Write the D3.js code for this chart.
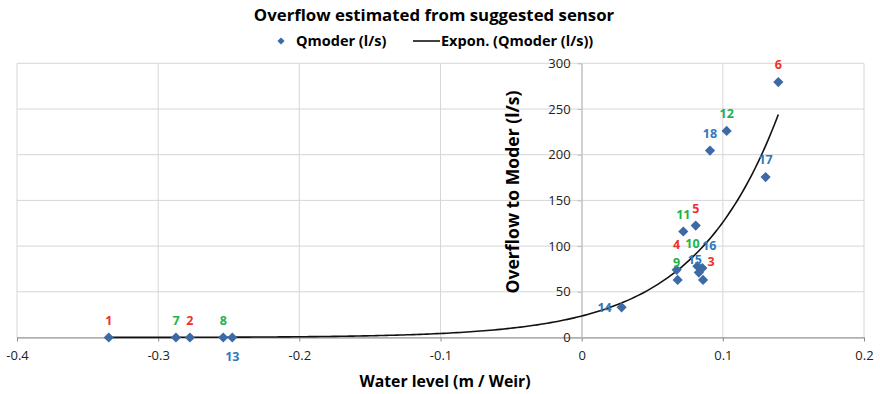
<!DOCTYPE html>
<html>
<head>
<meta charset="utf-8">
<script src="https://d3js.org/d3.v7.min.js"></script>
<style>
  body { margin: 0; background: white; }
  text { font-family: "Open Sans", sans-serif; }
  .grid line { stroke: #d6d6d6; stroke-width: 1; }
  .axis text { font-size: 13px; fill: #222; }
</style>
</head>
<body>
<div id="chart"></div>
<script>

var pointIds   = [1, 2, 3, 4, 5, 6, 7, 8, 9, 10, 11, 12, 13, 14, 15, 16, 17, 18];
var waterLevel = [-0.335, -0.2775, 0.086, 0.0673, 0.0808, 0.1393, -0.2874, -0.2539, 0.068, 0.082, 0.072, 0.1027, -0.2475, 0.0283, 0.083, 0.0855, 0.1303, 0.0909];
var overflow   = [0, 0, 63, 74, 122.5, 279.5, 0, 0, 63, 78, 116, 226, 0, 33, 71, 76, 175.5, 204.5];

var xTicks = [-0.4, -0.3, -0.2, -0.1, 0, 0.1, 0.2];
var yTicks = [0, 50, 100, 150, 200, 250, 300];

// Excel exponential trendline  y = a * e^(b x), drawn over the data range
var trendA = 23.5;
var trendB = 16.8;

var width = 880, height = 394;

var svg = d3.select('#chart').append('svg')
  .attr('width', width)
  .attr('height', height)
  .style('background', 'white');

var x = d3.scaleLinear().domain([-0.4, 0.2]).range([17, 864]);
var y = d3.scaleLinear().domain([0, 300]).range([337.5, 63.3]);

// gridlines
var grid = svg.append('g').attr('class', 'grid');
grid.selectAll('.vg').data(xTicks).enter().append('line')
  .attr('x1', function (d) { return x(d); })
  .attr('x2', function (d) { return x(d); })
  .attr('y1', y(300)).attr('y2', y(0));
grid.selectAll('.hg').data(yTicks).enter().append('line')
  .attr('x1', x(-0.4)).attr('x2', x(0.2))
  .attr('y1', function (d) { return y(d); })
  .attr('y2', function (d) { return y(d); });

// axes crossing at zero
var xAxis = svg.append('g').attr('class', 'axis')
  .attr('transform', 'translate(0,' + y(0) + ')')
  .call(d3.axisBottom(x).tickValues(xTicks).tickFormat(String).tickSize(4).tickSizeOuter(0).tickPadding(9));
xAxis.selectAll('path, line').attr('stroke', '#8a8a8a');

var yAxis = svg.append('g').attr('class', 'axis')
  .attr('transform', 'translate(' + x(0) + ',0)')
  .call(d3.axisLeft(y).tickValues(yTicks).tickSize(4).tickSizeOuter(0).tickPadding(7));
yAxis.selectAll('path, line').attr('stroke', '#bdbdbd');
xAxis.select('.domain').raise();

// trendline
var xs = d3.range(0, 201).map(function (i) {
  var lo = d3.min(waterLevel), hi = d3.max(waterLevel);
  return lo + (hi - lo) * i / 200;
});
svg.append('path')
  .datum(xs)
  .attr('fill', 'none')
  .attr('stroke', '#111')
  .attr('stroke-width', 1.6)
  .attr('d', d3.line()
    .x(function (d) { return x(d); })
    .y(function (d) { return y(trendA * Math.exp(trendB * d)); }));

// points
var points = pointIds.map(function (id, i) {
  return { id: id, wl: waterLevel[i], q: overflow[i] };
});
var diamond = d3.symbol().type(d3.symbolSquare).size(52);
svg.selectAll('.pt').data(points).enter().append('path')
  .attr('class', 'pt')
  .attr('d', diamond)
  .attr('fill', '#3d6aa6')
  .attr('transform', function (d) { return 'translate(' + x(d.wl) + ',' + y(d.q) + ') rotate(45)'; });

// data labels (number of the sample)
function labelColor(id) {
  if (id <= 6) return '#f0302c';
  if (id <= 12) return '#1fb14e';
  return '#2f7ac0';
}
var labelShift = {
  13: [0, 19], 14: [-17, 0], 4: [0, -25], 9: [-1, -17],
  10: [-5, -23], 16: [7, -22], 15: [-4, -13], 3: [8, -18]
};
svg.selectAll('.lbl').data(points).enter().append('text')
  .attr('class', 'lbl')
  .attr('x', function (d) { return x(d.wl) + (labelShift[d.id] ? labelShift[d.id][0] : 0); })
  .attr('y', function (d) { return y(d.q) + (labelShift[d.id] ? labelShift[d.id][1] : -17); })
  .attr('dy', '0.35em')
  .attr('text-anchor', 'middle')
  .style('font-size', '12.5px')
  .style('font-weight', 'bold')
  .attr('fill', function (d) { return labelColor(d.id); })
  .text(function (d) { return d.id; });

// titles
svg.append('text')
  .attr('x', 434).attr('y', 15).attr('dy', '0.35em')
  .attr('text-anchor', 'middle')
  .style('font-size', '16.8px').style('font-weight', 'bold')
  .text('Overflow estimated from suggested sensor');

svg.append('text')
  .attr('x', 445).attr('y', 381).attr('dy', '0.35em')
  .attr('text-anchor', 'middle')
  .style('font-size', '15.8px').style('font-weight', 'bold')
  .text('Water level (m / Weir)');

svg.append('text')
  .attr('transform', 'translate(513,192) rotate(-90)')
  .attr('dy', '0.35em')
  .attr('text-anchor', 'middle')
  .style('font-size', '17.6px').style('font-weight', 'bold')
  .text('Overflow to Moder (l/s)');

// legend
var legend = svg.append('g').attr('transform', 'translate(0,41)');
legend.append('path')
  .attr('d', d3.symbol().type(d3.symbolSquare).size(26))
  .attr('fill', '#3d6aa6')
  .attr('transform', 'translate(281,0) rotate(45)');
legend.append('text')
  .attr('x', 296).attr('dy', '0.35em')
  .style('font-size', '14.5px').style('font-weight', 'bold')
  .text('Qmoder (l/s)');
legend.append('line')
  .attr('x1', 413).attr('x2', 440)
  .attr('stroke', '#111').attr('stroke-width', 1.6);
legend.append('text')
  .attr('x', 441).attr('dy', '0.35em')
  .style('font-size', '14.5px').style('font-weight', 'bold')
  .text('Expon. (Qmoder (l/s))');

</script>
</body>
</html>
